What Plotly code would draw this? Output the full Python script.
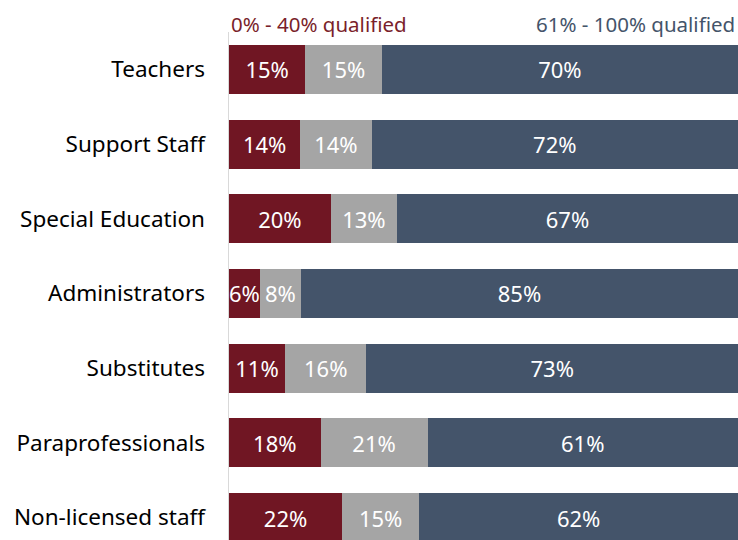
import plotly.graph_objects as go

categories = ["Teachers", "Support Staff", "Special Education", "Administrators",
              "Substitutes", "Paraprofessionals", "Non-licensed staff"]
low = [15, 14, 20, 6, 11, 18, 22]        # 0% - 40% qualified
mid = [15, 14, 13, 8, 16, 21, 15]        # 41% - 60% qualified
high = [70, 72, 67, 85, 73, 61, 62]      # 61% - 100% qualified

series = [("0% - 40% qualified", low, "#701623"),
          ("41% - 60% qualified", mid, "#a5a5a5"),
          ("61% - 100% qualified", high, "#44546a")]

FONT = "Noto Sans"

fig = go.Figure()
for name, vals, col in series:
    fig.add_trace(go.Bar(
        y=categories, x=vals, orientation="h", name=name,
        marker=dict(color=col, line=dict(width=0)),
        text=[f"{v}%" for v in vals], textposition="inside",
        insidetextanchor="middle", textangle=0,
        textfont=dict(color="white", size=22, family=FONT),
        hoverinfo="skip",
    ))

fig.update_layout(
    barmode="stack", barnorm="percent", bargap=0.345,
    width=738, height=540,
    margin=dict(l=229, r=0, t=32, b=0),
    plot_bgcolor="white", paper_bgcolor="white",
    showlegend=False,
    uniformtext=dict(mode="show", minsize=22),
    font=dict(family=FONT, color="#000000"),
    xaxis=dict(range=[0, 100], visible=False, fixedrange=True),
    yaxis=dict(categoryorder="array", categoryarray=categories,
               range=[6.30, -0.5], showgrid=False, zeroline=False,
               showline=True, linecolor="#d9d9d9", linewidth=1.5,
               ticks="", ticklabelstandoff=18,
               tickfont=dict(size=22.5, family=FONT, color="#000000")),
    annotations=[
        dict(text="0% - 40% qualified", x=0, xref="x", xanchor="left",
             xshift=0, y=1, yref="paper", yanchor="bottom", yshift=-8,
             showarrow=False,
             font=dict(size=20.5, color="#7a1f2b", family=FONT)),
        dict(text="61% - 100% qualified", x=1, xref="paper", xanchor="right",
             xshift=-1, y=1, yref="paper", yanchor="bottom", yshift=-8,
             showarrow=False,
             font=dict(size=20.5, color="#44546a", family=FONT)),
    ],
)

fig.write_html(
    "out.html",
    config={"displayModeBar": False, "staticPlot": True},
    post_script="document.body.style.margin='0';"
                "document.body.style.overflow='hidden';",
)
